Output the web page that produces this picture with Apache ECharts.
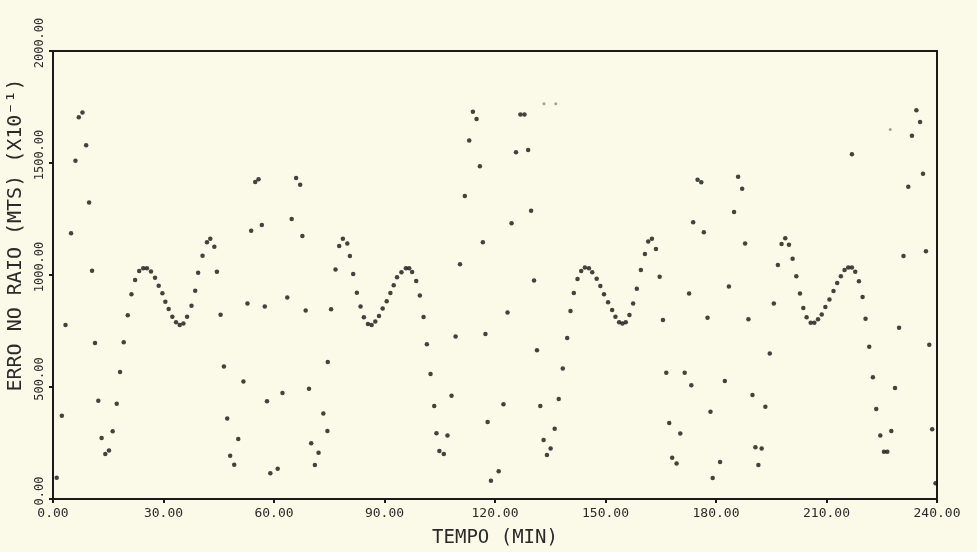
<!DOCTYPE html>
<html>
<head>
<meta charset="utf-8">
<script src="https://cdn.jsdelivr.net/npm/echarts@6/dist/echarts.min.js"></script>
<style>
html,body{margin:0;padding:0;background:#fbf9e7;}
#chart{width:977px;height:552px;}
</style>
</head>
<body>
<div id="chart"></div>
<script>
// Time (min) of each plotted point
const tempo = [
  1.0, 2.4, 3.4, 4.9, 6.1, 7.0, 8.0, 9.0, 9.8, 10.6, 11.4, 12.3, 13.2, 14.2, 15.2, 16.2, 17.3, 18.2, 19.2,
  20.3, 21.3, 22.3, 23.4, 24.5, 25.5, 26.6, 27.7, 28.7, 29.7, 30.5, 31.4, 32.4, 33.4, 34.4, 35.4, 36.4, 37.6, 38.6, 39.4,
  40.6, 41.8, 42.7, 43.8, 44.5, 45.5, 46.4, 47.3, 48.1, 49.2, 50.3, 51.7, 52.8, 53.8, 54.9, 55.8, 56.7, 57.5, 58.1, 59.0,
  61.0, 62.3, 63.6, 64.8, 66.0, 67.1, 67.7, 68.6, 69.5, 70.1, 71.1, 72.1, 73.4, 74.5, 74.6, 75.5, 76.7, 77.7, 78.7, 79.9,
  80.6, 81.5, 82.5, 83.5, 84.4, 85.5, 86.5, 87.5, 88.5, 89.5, 90.6, 91.6, 92.5, 93.4, 94.6, 95.8, 96.7, 97.5, 98.6, 99.6,
  100.6, 101.5, 102.5, 103.5, 104.1, 104.9, 106.1, 107.1, 108.2, 109.3, 110.5, 111.8, 113.0, 114.0, 115.0, 115.9, 116.7, 117.4, 118.0, 118.9,
  121.0, 122.3, 123.4, 124.5, 125.7, 126.9, 128.0, 129.0, 129.8, 130.6, 131.4, 132.3, 133.2, 134.1, 135.1, 136.2, 137.3, 138.4, 139.6,
  140.5, 141.4, 142.4, 143.4, 144.4, 145.5, 146.4, 147.6, 148.6, 149.6, 150.7, 151.8, 152.7, 153.7, 154.6, 155.5, 156.5, 157.5, 158.5, 159.6,
  160.7, 161.6, 162.6, 163.7, 164.7, 165.6, 166.5, 167.3, 168.1, 169.3, 170.3, 171.5, 172.7, 173.3, 173.8, 175.0, 176.0, 176.7, 177.7, 178.5, 179.1,
  181.1, 182.4, 183.5, 184.9, 186.0, 187.1, 187.9, 188.8, 189.9, 190.7, 191.5, 192.4, 193.4, 194.6, 195.7, 196.8, 197.8, 198.8, 199.8,
  200.8, 201.8, 202.8, 203.7, 204.6, 205.7, 206.7, 207.7, 208.7, 209.7, 210.8, 211.9, 212.9, 213.9, 214.9, 215.9, 216.9, 217.8, 218.8, 219.8,
  220.6, 221.6, 222.6, 223.5, 224.6, 225.6, 226.5, 227.6, 228.6, 229.7, 230.9, 232.2, 233.2, 234.4, 235.4, 236.2, 237.0, 237.9, 238.7, 239.6,
  216.9
];
// Radius error (MTS x10^-1) of each plotted point
const erro = [
  95, 372, 777, 1186, 1510, 1704, 1725, 1579, 1324, 1019, 696, 439, 272, 201, 216, 302, 425, 567, 700,
  820, 914, 978, 1018, 1030, 1030, 1016, 988, 952, 918, 881, 848, 814, 789, 777, 784, 814, 863, 930, 1010,
  1086, 1146, 1162, 1126, 1015, 823, 592, 359, 193, 153, 268, 524, 873, 1198, 1415, 1427, 1223, 859, 436, 115,
  135, 473, 899, 1250, 1433, 1403, 1174, 841, 492, 249, 152, 207, 382, 304, 612, 847, 1025, 1129, 1162, 1141,
  1085, 1004, 921, 859, 811, 781, 777, 792, 817, 850, 883, 920, 954, 990, 1012, 1030, 1030, 1013, 973, 908,
  812, 691, 558, 415, 293, 214, 201, 284, 461, 725, 1048, 1353, 1600, 1729, 1696, 1485, 1146, 737, 344, 82,
  124, 423, 833, 1231, 1548, 1716, 1716, 1558, 1287, 976, 664, 415, 263, 196, 225, 314, 446, 583, 719,
  839, 920, 982, 1018, 1033, 1030, 1012, 983, 951, 914, 878, 844, 814, 789, 784, 789, 821, 873, 939, 1022,
  1094, 1149, 1162, 1116, 992, 799, 564, 339, 184, 159, 292, 564, 917, 508, 1235, 1425, 1414, 1191, 809, 390, 94,
  165, 527, 949, 1281, 1439, 1385, 1141, 802, 464, 231, 152, 225, 412, 649, 873, 1045, 1138, 1164, 1135,
  1073, 994, 917, 853, 811, 787, 787, 802, 824, 857, 891, 929, 964, 994, 1022, 1034, 1034, 1015, 972, 902,
  805, 680, 543, 402, 283, 211, 211, 304, 496, 765, 1085, 1394, 1622, 1736, 1683, 1452, 1106, 689, 311, 70,
  1539
];
// Faint (lighter printed) points
const tempoFaint = [133.3, 136.5, 227.3];
const erroFaint = [1765, 1765, 1650];

// Axis ticks
const xTicks = [0, 30, 60, 90, 120, 150, 180, 210, 240];
const yTicks = [0, 500, 1000, 1500, 2000];

const mainData = tempo.map((t, i) => [t, erro[i]]);
const faintData = tempoFaint.map((t, i) => [t, erroFaint[i]]);

const FONT = 'DejaVu Sans Mono';
const TXT = '#2a2a2a';

const chart = echarts.init(document.getElementById('chart'), null, {renderer: 'canvas'});
chart.setOption({
  backgroundColor: '#fbf9e7',
  animation: false,
  grid: {
    left: 53, right: 40, top: 51, bottom: 53,
    outerBoundsMode: 'none',
    containLabel: false,
    show: true, borderColor: '#1a1a1a', borderWidth: 2, backgroundColor: 'transparent'
  },
  xAxis: {
    type: 'value',
    min: xTicks[0], max: xTicks[xTicks.length - 1], interval: 30,
    name: 'TEMPO (MIN)',
    nameLocation: 'middle',
    nameGap: 30,
    nameTextStyle: {fontFamily: FONT, fontSize: 19, color: TXT},
    axisLine: {show: true, lineStyle: {color: '#1a1a1a', width: 2}},
    axisTick: {show: true, length: 4, lineStyle: {color: '#1a1a1a', width: 2}},
    splitLine: {show: false},
    axisLabel: {
      fontFamily: FONT, fontSize: 13, color: TXT, margin: 8,
      formatter: v => v.toFixed(2)
    }
  },
  yAxis: {
    type: 'value',
    min: yTicks[0], max: yTicks[yTicks.length - 1], interval: 500,
    name: 'ERRO NO RAIO (MTS) (X10⁻¹)',
    nameLocation: 'middle',
    nameRotate: 90,
    nameGap: 26,
    nameTextStyle: {fontFamily: FONT, fontSize: 20, color: TXT, padding: [0, 0, 0, 80]},
    axisLine: {show: true, lineStyle: {color: '#1a1a1a', width: 2}},
    axisTick: {show: true, length: 4, lineStyle: {color: '#1a1a1a', width: 2}},
    splitLine: {show: false},
    axisLabel: {
      fontFamily: FONT, fontSize: 12, color: TXT, rotate: 90, margin: 7,
      padding: [0, 0, 0, 16],
      formatter: v => v.toFixed(2)
    }
  },
  series: [
    {
      type: 'scatter',
      data: mainData,
      symbol: 'circle',
      symbolSize: 4.5,
      itemStyle: {color: '#141414'},
      silent: true
    },
    {
      type: 'scatter',
      data: faintData,
      symbol: 'circle',
      symbolSize: 3,
      itemStyle: {color: '#8a8a80'},
      silent: true
    }
  ]
});
</script>
</body>
</html>
